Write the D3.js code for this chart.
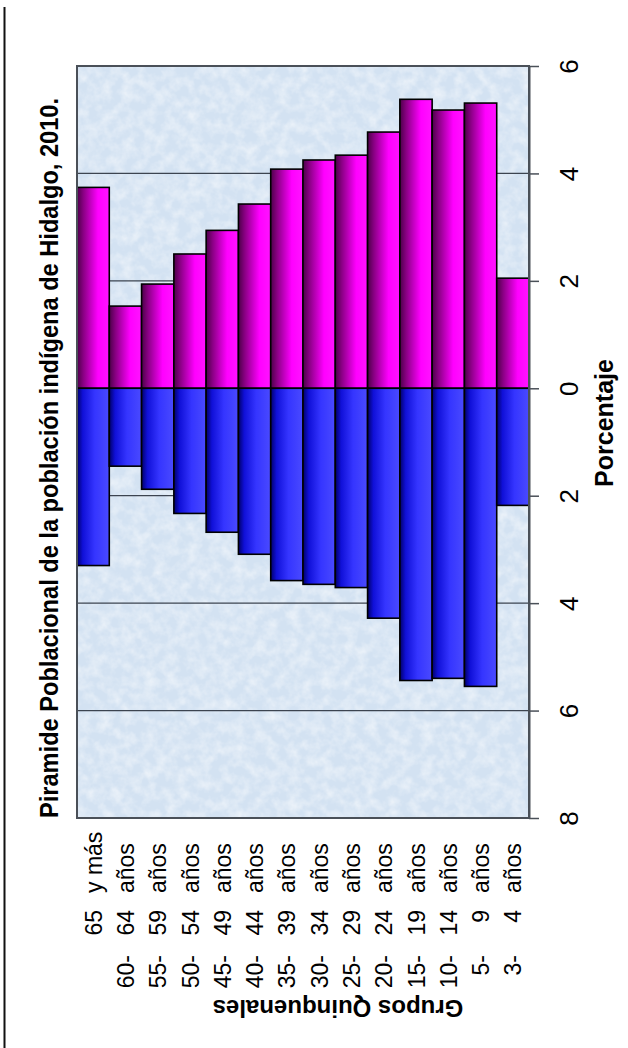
<!DOCTYPE html>
<html>
<head>
<meta charset="utf-8">
<script src="https://cdn.jsdelivr.net/npm/d3@7"></script>
<style>
  body { margin: 0; background: #fff; }
  svg text { font-family: "Liberation Sans", Arial, sans-serif; fill: #000; }
</style>
</head>
<body>
<div id="chart"></div>
<script>
"use strict";

// Grupos quinquenales, from oldest to youngest (left to right in the picture)
var grupos = ["65 y más", "60 - 64 años", "55 - 59 años", "50 - 54 años", "45 - 49 años",
    "40 - 44 años", "35 - 39 años", "30 - 34 años", "25 - 29 años", "20 - 24 años",
    "15 - 19 años", "10 - 14 años", "5 - 9 años", "3 - 4 años"]

// Porcentaje de la población (pink side, drawn upwards)
var mujeres = [3.74, 1.53, 1.94, 2.50, 2.94, 3.43, 4.08, 4.25, 4.34, 4.77, 5.38, 5.18, 5.31, 2.05]
// Porcentaje de la población (blue side, drawn downwards)
var hombres = [3.30, 1.45, 1.88, 2.33, 2.68, 3.09, 3.58, 3.65, 3.71, 4.28, 5.44, 5.40, 5.55, 2.18]

var ticks = [-8, -6, -4, -2, 0, 2, 4, 6]
var gridValues = [-6, -4, -2, 0, 2, 4]

var titulo = "Piramide Poblacional de la población indígena de Hidalgo, 2010."
var ejeValores = "Porcentaje"
var ejeGrupos = "Grupos Quinquenales"

var width = 628
var height = 1048
var plot = { left: 77, right: 529, top: 66, bottom: 818 }

var svg = d3.select('#chart').append('svg')
    .attr('width', width)
    .attr('height', height)

var defs = svg.append('defs')

// bar gradients (dark at the left edge, bright towards the right)
var gradPink = defs.append('linearGradient').attr('id', 'gradPink')
    .attr('x1', 0).attr('x2', 1).attr('y1', 0).attr('y2', 0)
gradPink.append('stop').attr('offset', '0%').attr('stop-color', '#4c0048')
gradPink.append('stop').attr('offset', '20%').attr('stop-color', '#8a0084')
gradPink.append('stop').attr('offset', '65%').attr('stop-color', '#ff00ff')
gradPink.append('stop').attr('offset', '100%').attr('stop-color', '#ff14ff')

var gradBlue = defs.append('linearGradient').attr('id', 'gradBlue')
    .attr('x1', 0).attr('x2', 1).attr('y1', 0).attr('y2', 0)
gradBlue.append('stop').attr('offset', '0%').attr('stop-color', '#00006a')
gradBlue.append('stop').attr('offset', '18%').attr('stop-color', '#1010d8')
gradBlue.append('stop').attr('offset', '55%').attr('stop-color', '#3535ff')
gradBlue.append('stop').attr('offset', '100%').attr('stop-color', '#4a4aff')

// fine mottled texture for the plot background
var tex = defs.append('filter').attr('id', 'texture')
    .attr('x', 0).attr('y', 0).attr('width', 1).attr('height', 1)
tex.append('feTurbulence')
    .attr('type', 'fractalNoise')
    .attr('baseFrequency', 0.09)
    .attr('numOctaves', 3)
    .attr('seed', 7)
tex.append('feColorMatrix')
    .attr('type', 'matrix')
    .attr('values', '0 0 0 0 1  0 0 0 0 1  0 0 0 0 1  1.3 0 0 0 -0.45')
tex.append('feComposite').attr('in2', 'SourceGraphic').attr('operator', 'in')

// scales
var x = d3.scaleBand()
    .domain(grupos)
    .range([plot.left, plot.right])
    .padding(0)

var y = d3.scaleLinear()
    .domain([-8, 6])
    .range([plot.bottom, plot.top])

// left frame line
svg.append('line')
    .attr('x1', 4.5).attr('x2', 4.5)
    .attr('y1', 7).attr('y2', height)
    .attr('stroke', '#111')
    .attr('stroke-width', 2)

// plot background
svg.append('rect')
    .attr('x', plot.left).attr('y', plot.top)
    .attr('width', plot.right - plot.left)
    .attr('height', plot.bottom - plot.top)
    .attr('fill', '#d3e2f2')
svg.append('rect')
    .attr('x', plot.left).attr('y', plot.top)
    .attr('width', plot.right - plot.left)
    .attr('height', plot.bottom - plot.top)
    .attr('fill', '#fff')
    .attr('opacity', 0.75)
    .attr('filter', 'url(#texture)')

// gridlines
svg.append('g').selectAll('line')
    .data(gridValues)
    .enter()
    .append('line')
    .attr('x1', plot.left).attr('x2', plot.right)
    .attr('y1', d => y(d)).attr('y2', d => y(d))
    .attr('stroke', '#3c4450')
    .attr('stroke-width', 1.3)

// bars
svg.append('g').selectAll('rect')
    .data(grupos)
    .enter()
    .append('rect')
    .attr('x', d => x(d))
    .attr('width', x.bandwidth())
    .attr('y', (d, i) => y(mujeres[i]))
    .attr('height', (d, i) => y(0) - y(mujeres[i]))
    .attr('fill', 'url(#gradPink)')
    .attr('stroke', '#000')
    .attr('stroke-width', 1.6)

svg.append('g').selectAll('rect')
    .data(grupos)
    .enter()
    .append('rect')
    .attr('x', d => x(d))
    .attr('width', x.bandwidth())
    .attr('y', y(0))
    .attr('height', (d, i) => y(-hombres[i]) - y(0))
    .attr('fill', 'url(#gradBlue)')
    .attr('stroke', '#000')
    .attr('stroke-width', 1.6)

// plot frame
svg.append('rect')
    .attr('x', plot.left).attr('y', plot.top)
    .attr('width', plot.right - plot.left)
    .attr('height', plot.bottom - plot.top)
    .attr('fill', 'none')
    .attr('stroke', '#4a5058')
    .attr('stroke-width', 2)

// value axis on the right, labels turned like the rest of the chart
var axis = svg.append('g')
    .attr('transform', 'translate(' + plot.right + ',0)')
    .call(d3.axisRight(y).tickValues(ticks).tickFormat(d => Math.abs(d)).tickSize(10).tickSizeOuter(0))
axis.select('.domain').attr('stroke', '#4a5058').attr('stroke-width', 2)
axis.selectAll('.tick line').attr('stroke', '#4a5058').attr('stroke-width', 1.5)
axis.selectAll('.tick text')
    .attr('x', null).attr('dy', null)
    .attr('transform', 'translate(49,0) rotate(-90)')
    .attr('text-anchor', 'middle')
    .attr('font-size', 26)
    .attr('fill', '#000')

// category labels, split in three columns as in the original
// columns: [first age + dash] ends at 955, [second age] ends at 910, [años] starts at 893
var labels = svg.append('g')
grupos.forEach(function (g) {
    var m = g.match(/^(?:(\d+)\s*-\s*)?(\d+)\s+(.*)$/)
    var cx = x(g) + x.bandwidth() / 2 + 8.5
    var parts = [
        { text: m[1] ? m[1] + '-' : '', end: 955 },
        { text: m[2], end: 910 },
        { text: m[3], start: 893 }
    ]
    parts.forEach(function (p) {
        if (!p.text) return
        var t = labels.append('text')
            .text(p.text)
            .attr('font-size', 23)
        var pos = p.start !== undefined ? p.start : p.end + t.node().getComputedTextLength()
        t.attr('transform', 'translate(' + cx + ',' + pos + ') rotate(-90)')
    })
})

// titles
svg.append('text')
    .text(titulo)
    .attr('transform', 'translate(58,458) rotate(-90)')
    .attr('text-anchor', 'middle')
    .attr('font-size', 25)
    .attr('font-weight', 'bold')
    .attr('textLength', 720)
    .attr('lengthAdjust', 'spacingAndGlyphs')

svg.append('text')
    .text(ejeValores)
    .attr('transform', 'translate(613,423) rotate(-90)')
    .attr('text-anchor', 'middle')
    .attr('font-size', 25)
    .attr('font-weight', 'bold')

svg.append('text')
    .text(ejeGrupos)
    .attr('transform', 'translate(338,1000) rotate(180)')
    .attr('text-anchor', 'middle')
    .attr('font-size', 24)
    .attr('font-weight', 'bold')
</script>
</body>
</html>
